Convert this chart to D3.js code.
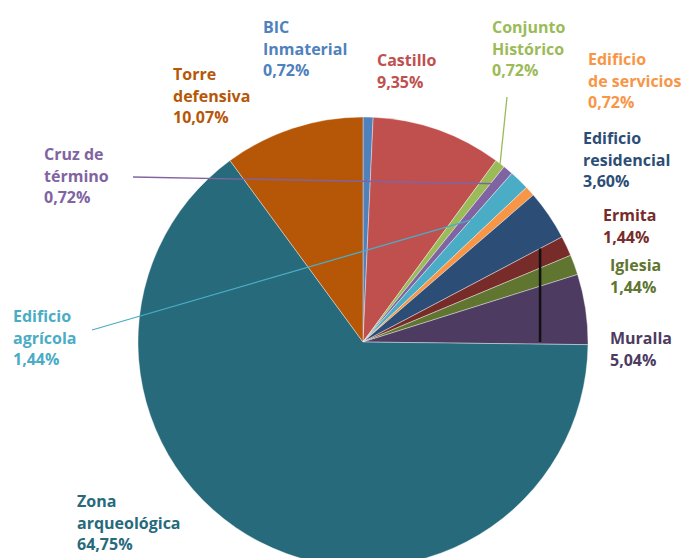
<!DOCTYPE html>
<html>
<head>
<meta charset="utf-8">
<script src="https://cdn.jsdelivr.net/npm/d3@7"></script>
<style>
  html, body { margin: 0; padding: 0; background: #fff; overflow: hidden; }
  svg text { font-family: "Open Sans", sans-serif; font-weight: 700; }
</style>
</head>
<body>
<svg id="chart" width="685" height="558"></svg>
<script>
// Heritage categories (clockwise from 12 o'clock) and their share in %
const categories = [
  "BIC Inmaterial", "Castillo", "Conjunto Histórico", "Cruz de término",
  "Edificio agrícola", "Edificio de servicios", "Edificio residencial",
  "Ermita", "Iglesia", "Muralla", "Zona arqueológica", "Torre defensiva"
];
const values = [0.72, 9.35, 0.72, 0.72, 1.44, 0.72, 3.60, 1.44, 1.44, 5.04, 64.75, 10.07];
const valueLabels = ["0,72%", "9,35%", "0,72%", "0,72%", "1,44%", "0,72%", "3,60%", "1,44%", "1,44%", "5,04%", "64,75%", "10,07%"];
const labelLines = [
  ["BIC", "Inmaterial"], ["Castillo"], ["Conjunto", "Histórico"], ["Cruz de", "término"],
  ["Edificio", "agrícola"], ["Edificio", "de servicios"], ["Edificio", "residencial"],
  ["Ermita"], ["Iglesia"], ["Muralla"], ["Zona", "arqueológica"], ["Torre", "defensiva"]
];
const colors = ["#4f81bd", "#c0504d", "#9bbb59", "#8064a2", "#4bacc6", "#f79646",
                "#2c4d75", "#772c2a", "#5f7530", "#4d3b62", "#276a7c", "#b65708"];
const textColors = ["#4f81bd", "#c0504d", "#9bbb59", "#8064a2", "#4bacc6", "#f79646",
                    "#2c4d75", "#772c2a", "#5f7530", "#4d3b62", "#276a7c", "#b65708"];

// Layout: label anchor (x, first baseline) and optional leader line settings
const layout = {
  "BIC Inmaterial":        { x: 263, y: 33 },
  "Castillo":              { x: 377, y: 66 },
  "Conjunto Histórico":    { x: 492, y: 33, leader: { from: [507, 97], r: 1.0 } },
  "Cruz de término":       { x: 44,  y: 160, leader: { from: [133, 177], r: 0.92 } },
  "Edificio agrícola":     { x: 13,  y: 322, leader: { from: [92, 330], r: 0.78 } },
  "Edificio de servicios": { x: 588, y: 65 },
  "Edificio residencial":  { x: 583, y: 144 },
  "Ermita":                { x: 603, y: 221 },
  "Iglesia":               { x: 610, y: 271 },
  "Muralla":               { x: 610, y: 344 },
  "Zona arqueológica":     { x: 77,  y: 507 },
  "Torre defensiva":       { x: 173, y: 80 }
};
const lineHeight = 21.5;

const cx = 363, cy = 342, radius = 225;
const svg = d3.select("#chart");

const data = categories.map((c, i) => ({ name: c, value: values[i], i }));
const pie = d3.pie().value(d => d.value).sort(null);
const arcs = pie(data);
const arc = d3.arc().innerRadius(0).outerRadius(radius);

const g = svg.append("g").attr("transform", `translate(${cx},${cy})`);

g.selectAll("path.slice")
  .data(arcs)
  .join("path")
  .attr("class", "slice")
  .attr("d", arc)
  .attr("fill", d => colors[d.data.i])
  .attr("stroke", "rgba(255,255,255,0.55)")
  .attr("stroke-width", 0.7);

// Point on the ray at angle a (d3 convention: 0 = top, clockwise)
const polar = (a, r) => [Math.sin(a) * r, -Math.cos(a) * r];

// Vertical black rule from the residencial/ermita boundary down to the muralla base
const ermita = arcs[categories.indexOf("Ermita")];
const ruleX = radius * 0.787;
const dir = polar(ermita.startAngle, 1);
const ruleTopY = dir[1] * (ruleX / dir[0]);
g.append("line")
  .attr("x1", ruleX).attr("x2", ruleX)
  .attr("y1", ruleTopY).attr("y2", 0)
  .attr("stroke", "#111").attr("stroke-width", 2.5);

// Leader lines
arcs.forEach(d => {
  const L = layout[d.data.name].leader;
  if (!L) return;
  const mid = (d.startAngle + d.endAngle) / 2;
  const p = polar(mid, radius * L.r);
  g.append("line")
    .attr("x1", L.from[0] - cx).attr("y1", L.from[1] - cy)
    .attr("x2", p[0]).attr("y2", p[1])
    .attr("stroke", colors[d.data.i])
    .attr("stroke-width", 1.3);
});

// Labels
arcs.forEach(d => {
  const i = d.data.i;
  const pos = layout[d.data.name];
  const lines = labelLines[i].concat([valueLabels[i]]);
  const t = svg.append("text")
    .attr("x", pos.x).attr("y", pos.y)
    .attr("fill", textColors[i])
    .attr("font-size", 16);
  lines.forEach((s, k) => {
    t.append("tspan").attr("x", pos.x).attr("y", pos.y + k * lineHeight).text(s);
  });
});
</script>
</body>
</html>
